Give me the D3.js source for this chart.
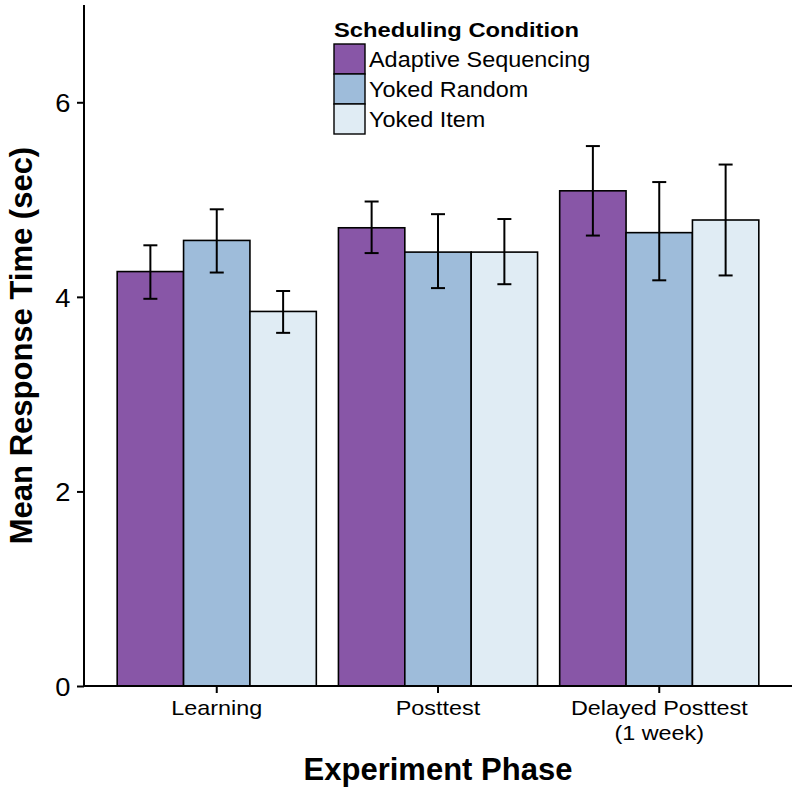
<!DOCTYPE html>
<html>
<head>
<meta charset="utf-8">
<script src="https://cdn.jsdelivr.net/npm/d3@7"></script>
<style>
  body { margin: 0; background: #fff; }
  text { font-family: "Liberation Sans", Arial, sans-serif; fill: #000; }
</style>
</head>
<body>
<svg id="chart" width="800" height="790"></svg>
<script>
// data
var phases = ["Learning", "Posttest", "Delayed Posttest\n(1 week)"];
var conditions = ["Adaptive Sequencing", "Yoked Random", "Yoked Item"];
var colours = ["#8856a7", "#9ebcda", "#e0ecf4"];

// mean response time (sec), one array per condition, in phase order
var meanAdaptive = [4.26, 4.71, 5.09];
var meanRandom   = [4.58, 4.46, 4.66];
var meanItem     = [3.85, 4.46, 4.79];

// error bar ends
var lowAdaptive  = [3.98, 4.45, 4.63];
var highAdaptive = [4.53, 4.98, 5.55];
var lowRandom    = [4.25, 4.09, 4.17];
var highRandom   = [4.90, 4.85, 5.18];
var lowItem      = [3.63, 4.13, 4.22];
var highItem     = [4.06, 4.80, 5.36];

var yTicks = [0, 2, 4, 6];

var means = [meanAdaptive, meanRandom, meanItem];
var lows = [lowAdaptive, lowRandom, lowItem];
var highs = [highAdaptive, highRandom, highItem];

var rows = [];
for (var p = 0; p < phases.length; p++)
    {
    for (var c = 0; c < conditions.length; c++)
        {
        rows.push({phase: phases[p], cond: conditions[c], ci: c,
                   mean: means[c][p], lo: lows[c][p], hi: highs[c][p]});
        }
    }

var svg = d3.select("#chart");
// plot area edges (window.top is taken, hence the names)
var padL = 84, padR = 792, padT = 5, padB = 686;

var x = d3.scaleBand().domain(phases).range([padL, padR])
    .paddingInner(0.1).paddingOuter(0.15);
var xi = d3.scaleBand().domain(conditions).range([0, x.bandwidth()]);
var y = d3.scaleLinear().domain([0, 7]).range([padB, padT]);
var fill = d3.scaleOrdinal().domain(conditions).range(colours);

// bars
svg.append("g").selectAll("rect")
    .data(rows)
  .enter().append("rect")
    .attr("x", function(d) { return x(d.phase) + xi(d.cond); })
    .attr("y", function(d) { return y(d.mean); })
    .attr("width", xi.bandwidth())
    .attr("height", function(d) { return y(0) - y(d.mean); })
    .attr("fill", function(d) { return fill(d.cond); })
    .attr("stroke", "#000")
    .attr("stroke-width", 1.6);

// error bars
var cap = 7;
var eb = svg.append("g").attr("stroke", "#000").attr("stroke-width", 2)
    .selectAll("g").data(rows).enter().append("g")
    .attr("transform", function(d) { return "translate(" + (x(d.phase) + xi(d.cond) + xi.bandwidth() / 2) + ",0)"; });
eb.append("line").attr("x1", 0).attr("x2", 0)
    .attr("y1", function(d) { return y(d.lo); })
    .attr("y2", function(d) { return y(d.hi); });
eb.append("line").attr("x1", -cap).attr("x2", cap)
    .attr("y1", function(d) { return y(d.lo); })
    .attr("y2", function(d) { return y(d.lo); });
eb.append("line").attr("x1", -cap).attr("x2", cap)
    .attr("y1", function(d) { return y(d.hi); })
    .attr("y2", function(d) { return y(d.hi); });

// y axis
var gy = svg.append("g").attr("transform", "translate(" + padL + ",0)")
    .call(d3.axisLeft(y).tickValues(yTicks).tickSize(7).tickPadding(6).tickFormat(d3.format("d")));
gy.select(".domain").attr("stroke", "#000").attr("stroke-width", 2)
    .attr("d", "M0," + padT + "V" + padB);
gy.selectAll(".tick line").attr("stroke", "#000").attr("stroke-width", 2);
gy.selectAll(".tick text").attr("font-size", 26).attr("fill", "#000")
    .attr("font-family", "Liberation Sans, Arial, sans-serif")
    .attr("dy", "0.36em")
    .attr("transform", "scale(1.05,1)");

// x axis
var gx = svg.append("g").attr("transform", "translate(0," + padB + ")")
    .call(d3.axisBottom(x).tickSize(7).tickPadding(0).tickFormat(""));
gx.select(".domain").attr("stroke", "#000").attr("stroke-width", 2)
    .attr("d", "M" + padL + ",0H" + padR);
gx.selectAll(".tick line").attr("stroke", "#000").attr("stroke-width", 2);
gx.selectAll(".tick text").remove();
gx.selectAll(".tick").each(function(d) {
    var lines = d.split("\n");
    var t = d3.select(this).append("text")
        .attr("text-anchor", "middle")
        .attr("font-size", 20)
        .attr("font-family", "Liberation Sans, Arial, sans-serif")
        .attr("fill", "#000")
        .attr("transform", "scale(1.17,1)");
    lines.forEach(function(s, i) {
        t.append("tspan").attr("x", 0).attr("y", 29 + i * 25).text(s);
    });
});

// axis titles
svg.append("text")
    .attr("x", (padL + padR) / 2).attr("y", 780)
    .attr("text-anchor", "middle")
    .attr("font-size", 31).attr("font-weight", "bold")
    .text("Experiment Phase");

svg.append("text")
    .attr("transform", "translate(32," + ((padT + padB) / 2) + ") rotate(-90)")
    .attr("text-anchor", "middle")
    .attr("font-size", 31).attr("font-weight", "bold")
    .text("Mean Response Time (sec)");

// legend
var legend = svg.append("g").attr("transform", "translate(334,0)");
legend.append("text")
    .attr("x", 0).attr("y", 37)
    .attr("font-size", 21).attr("font-weight", "bold")
    .attr("transform", "scale(1.13,1)")
    .text("Scheduling Condition");
var item = legend.selectAll("g.item").data(conditions).enter().append("g")
    .attr("class", "item")
    .attr("transform", function(d, i) { return "translate(0," + (44 + i * 30) + ")"; });
item.append("rect")
    .attr("width", 31).attr("height", 30)
    .attr("fill", function(d) { return fill(d); })
    .attr("stroke", "#000").attr("stroke-width", 1.4);
item.append("text")
    .attr("x", 35 / 1.09).attr("y", 23)
    .attr("font-size", 21.5)
    .attr("transform", "scale(1.09,1)")
    .text(function(d) { return d; });
</script>
</body>
</html>
